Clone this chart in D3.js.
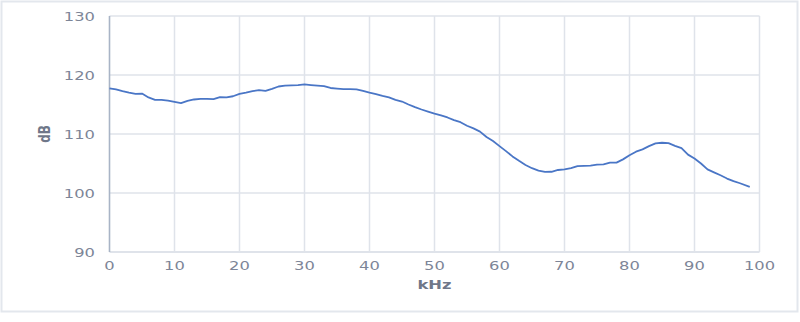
<!DOCTYPE html>
<html><head><meta charset="utf-8">
<script src="https://cdn.jsdelivr.net/npm/d3@7"></script>
<style>html,body{margin:0;padding:0;background:#fff;}svg{display:block;}</style>
</head><body>
<svg id="c" width="800" height="322"></svg>
<script>
const freqKHz = [0,1,2,3,4,5,6,7,8,9,10,11,12,13,14,15,16,17,18,19,20,21,22,23,24,25,26,27,28,29,30,31,32,33,34,35,36,37,38,39,40,41,42,43,44,45,46,47,48,49,50,51,52,53,54,55,56,57,58,59,60,61,62,63,64,65,66,67,68,69,70,71,72,73,74,75,76,77,78,79,80,81,82,83,84,85,86,87,88,89,90,91,92,93,94,95,96,97,98.5];
const levelDB = [117.75,117.55,117.25,117.0,116.8,116.85,116.2,115.8,115.8,115.65,115.45,115.25,115.6,115.85,115.95,115.95,115.9,116.25,116.2,116.4,116.8,117.0,117.25,117.45,117.3,117.65,118.05,118.2,118.25,118.3,118.4,118.3,118.2,118.1,117.8,117.7,117.62,117.6,117.58,117.3,117.0,116.75,116.45,116.2,115.8,115.5,115.0,114.55,114.15,113.8,113.45,113.15,112.8,112.35,112.0,111.4,110.95,110.4,109.5,108.8,107.95,107.1,106.2,105.45,104.75,104.2,103.8,103.58,103.6,103.9,104.0,104.2,104.55,104.6,104.65,104.8,104.85,105.14,105.14,105.7,106.4,107.0,107.4,107.95,108.4,108.52,108.45,108.0,107.6,106.5,105.85,105.0,104.0,103.5,103.0,102.45,102.0,101.65,101.05];
const xTicks = [0,10,20,30,40,50,60,70,80,90,100];
const yTicks = [90,100,110,120,130];
const xTitle = "kHz", yTitle = "dB";

const svg = d3.select("#c");
const x = d3.scaleLinear().domain([0,100]).range([109.5,759.5]);
const y = d3.scaleLinear().domain([90,130]).range([252,16]);
const SX = 1.36;
const font = "DejaVu Sans";
const labCol = "#7d8597";

svg.append("rect").attr("x",1.5).attr("y",1.5).attr("width",796).attr("height",310)
  .attr("fill","#fff").attr("stroke","#e3e7ed").attr("stroke-width",2);

// vertical gridlines
svg.append("g").selectAll("line").data(xTicks.filter(d=>d>0)).join("line")
  .attr("x1",d=>x(d)).attr("x2",d=>x(d)).attr("y1",y(130)).attr("y2",y(90))
  .attr("stroke","#dfe3ea").attr("stroke-width",1.5);
// horizontal gridlines
svg.append("g").selectAll("line").data(yTicks).join("line")
  .attr("x1",x(0)).attr("x2",x(100)).attr("y1",d=>y(d)).attr("y2",d=>y(d))
  .attr("stroke","#dfe3ea").attr("stroke-width",d=>d===90?2:1.5);
// y axis line
svg.append("line").attr("x1",x(0)).attr("x2",x(0)).attr("y1",y(130)).attr("y2",y(90))
  .attr("stroke","#a9b4c6").attr("stroke-width",1.6);

function txt(g, tx, ty, s, anchor, extra){
  const t = g.append("text").attr("transform",`translate(${tx},${ty}) scale(${SX},1)`)
    .attr("text-anchor",anchor).attr("dominant-baseline","central")
    .attr("font-family",font).attr("font-size",12).attr("fill",labCol).text(s);
  if(extra) extra(t);
  return t;
}
const g = svg.append("g");
yTicks.forEach(d=>txt(g, 95, y(d)+0.5, d, "end"));
xTicks.forEach(d=>txt(g, x(d), 266, d, "middle"));
txt(g, 434.5, 285, xTitle, "middle", t=>t.attr("font-weight","bold").attr("fill","#6f7789"));
svg.append("text").attr("transform",`translate(44,134) rotate(-90) scale(1,${SX})`)
  .attr("text-anchor","middle").attr("dominant-baseline","central")
  .attr("font-family",font).attr("font-size",12).attr("font-weight","bold").attr("fill","#6f7789").text(yTitle);

const line = d3.line().x((d,i)=>x(freqKHz[i])).y(d=>y(d));
svg.append("path").datum(levelDB).attr("d",line).attr("fill","none")
  .attr("stroke","#4a76c6").attr("stroke-width",1.8).attr("stroke-linejoin","round");
</script>
</body></html>
